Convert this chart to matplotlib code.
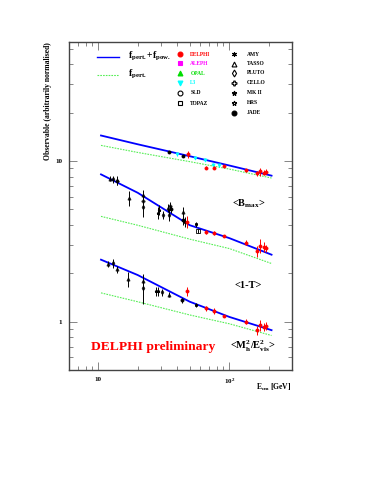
import numpy as np
import matplotlib.pyplot as plt
from matplotlib.ticker import LogLocator, NullFormatter, FixedLocator, FixedFormatter

plt.rcParams['font.family'] = ['Liberation Serif', 'DejaVu Serif']
plt.rcParams['font.weight'] = 'bold'
plt.rcParams['mathtext.fontset'] = 'custom'
plt.rcParams['mathtext.rm'] = 'Liberation Serif:bold'
plt.rcParams['mathtext.it'] = 'Liberation Serif:italic:bold'
plt.rcParams['mathtext.bf'] = 'Liberation Serif:bold'

# ===== 데이터 =====
# 실험별 마커 / 색
exp_style = {
    'DELPHI': ('o', 'red', 'red'),
    'ALEPH': ('s', 'magenta', 'magenta'),
    'OPAL': ('^', '#00dd00', '#00dd00'),
    'L3': ('v', 'cyan', 'cyan'),
    'SLD': ('o', 'none', 'black'),
    'TOPAZ': ('s', 'none', 'black'),
    'AMY': ((6, 2, 0), 'black', 'black'),
    'TASSO': ('^', 'none', 'black'),
    'PLUTO': ('d', 'none', 'black'),
    'CELLO': ('P', 'none', 'black'),
    'MK II': ('*', 'black', 'black'),
    'HRS': ('*', 'none', 'black'),
    'JADE': ('o', 'black', 'black'),
}
legend_col1 = ['DELPHI', 'ALEPH', 'OPAL', 'L3', 'SLD', 'TOPAZ']
legend_col2 = ['AMY', 'TASSO', 'PLUTO', 'CELLO', 'MK II', 'HRS', 'JADE']

# <B_max>
bmax_E = [34.8, 40.1, 44.0, 48.1, 55.0, 64.9, 66.0, 75.0, 76.4, 84.0, 91.2, 133, 162, 172, 183, 189]
bmax_val = [11.3, 11.0, 10.7, 11.0, 10.5, 10.2, 9.1, 9.5, 9.1, 9.4, 9.33, 8.73, 8.4, 8.6, 8.45, 8.55]
bmax_err = [0.15, 0.2, 0.15, 0.5, 0.2, 0.2, 0.15, 0.2, 0.2, 0.2, 0.05, 0.2, 0.3, 0.5, 0.3, 0.3]
bmax_exp = ['JADE', 'L3', 'JADE', 'DELPHI', 'L3', 'L3', 'DELPHI', 'L3', 'DELPHI', 'L3', 'DELPHI',
            'DELPHI', 'DELPHI', 'DELPHI', 'DELPHI', 'DELPHI']

# <1-T>
thr_E = [12.3, 13.0, 13.8, 14.0, 17.3, 21.8, 22.0, 22.0, 28.4, 29.1, 31.4, 34.2, 35.2, 35.9, 34.8,
         44.0, 44.0, 46.1, 47.7, 55.6, 58.0, 66.3, 76.4, 91.2, 133, 162, 172, 183, 189]
thr_val = [7.75, 7.7, 7.6, 7.45, 5.87, 6.15, 5.6, 5.2, 4.77, 4.98, 4.63, 5.09, 5.24, 5.0, 4.63,
           4.81, 4.27, 4.17, 4.17, 4.04, 3.68, 3.6, 3.55, 3.41, 3.1, 2.74, 2.96, 2.92, 2.87]
thr_err = [0.3, 0.4, 0.5, 0.4, 0.6, 0.4, 0.4, 0.7, 0.4, 0.35, 0.25, 0.3, 0.3, 0.25, 0.4,
           0.35, 0.25, 0.3, 0.35, 0.15, 0.1, 0.1, 0.1, 0.03, 0.12, 0.2, 0.3, 0.2, 0.15]
thr_exp = ['TASSO', 'PLUTO', 'TASSO', 'CELLO', 'TASSO', 'TASSO', 'CELLO', 'PLUTO', 'HRS', 'MK II',
           'PLUTO', 'TASSO', 'CELLO', 'JADE', 'PLUTO', 'TASSO', 'JADE', 'AMY', 'DELPHI', 'AMY',
           'TOPAZ', 'DELPHI', 'DELPHI', 'DELPHI', 'DELPHI', 'DELPHI', 'DELPHI', 'DELPHI', 'DELPHI']

# <M_h^2/E_vis^2>
mh_E = [11.9, 12.9, 14.0, 17.0, 21.8, 22.0, 27.6, 28.7, 30.8, 34.6, 43.6, 47.7, 55.3, 66.3, 76.4,
        91.2, 133, 162, 172, 183, 189]
mh_val = [2.30, 2.32, 2.12, 1.85, 1.79, 1.63, 1.55, 1.55, 1.52, 1.47, 1.36, 1.55, 1.27, 1.21, 1.16,
          1.08, 1.0, 0.885, 0.95, 0.93, 0.94]
mh_err = [0.1, 0.15, 0.1, 0.2, 0.12, 0.35, 0.1, 0.1, 0.08, 0.05, 0.05, 0.1, 0.03, 0.04, 0.05,
          0.01, 0.04, 0.06, 0.08, 0.05, 0.05]
mh_exp = ['TASSO', 'PLUTO', 'TASSO', 'TASSO', 'TASSO', 'PLUTO', 'HRS', 'MK II', 'PLUTO', 'TASSO',
          'JADE', 'DELPHI', 'AMY', 'DELPHI', 'DELPHI', 'DELPHI', 'DELPHI', 'DELPHI', 'DELPHI',
          'DELPHI', 'DELPHI']

# 곡선 (f_pert.+f_pow. / f_pert.)
curve_E = [10.5, 20, 50, 100, 210]
bmax_full = [14.4, 12.7, 10.7, 9.37, 8.1]
bmax_pert = [12.5, 11.3, 9.9, 8.9, 7.83]
thr_full = [8.25, 6.34, 3.98, 3.31, 2.61]
thr_pert = [4.52, 3.98, 3.26, 2.85, 2.30]
mh_full = [2.43, 1.95, 1.33, 1.07, 0.885]
mh_pert = [1.51, 1.33, 1.10, 0.97, 0.82]

# ===== Figure =====
fig = plt.figure(figsize=(3.82, 4.94), dpi=100)
ax = fig.add_axes([0.181, 0.251, 0.583, 0.664])
ax.set_xscale('log')
ax.set_yscale('log')
ax.set_xlim(6, 300)
ax.set_ylim(0.5, 55)

for full, pert in [(bmax_full, bmax_pert), (thr_full, thr_pert), (mh_full, mh_pert)]:
    ax.plot(curve_E, full, color='blue', lw=1.3, zorder=2)
    ax.plot(curve_E, pert, color='#55ee55', lw=0.8, ls=(0, (1.5, 1)), zorder=2)


def draw_points(E, val, err, exp):
    for e, v, s, name in zip(E, val, err, exp):
        mk, fc, ec = exp_style[name]
        ax.errorbar([e], [v], yerr=[s], fmt='', marker=mk, ls='none', ms=2.2, mfc=fc, mec=ec,
                    mew=0.6, ecolor=ec, elinewidth=0.7, capsize=0, zorder=3)


draw_points(bmax_E, bmax_val, bmax_err, bmax_exp)
draw_points(thr_E, thr_val, thr_err, thr_exp)
draw_points(mh_E, mh_val, mh_err, mh_exp)

# 축 눈금
ax.tick_params(which='both', direction='in', top=True, right=True, width=0.5, colors='#555555',
               labelcolor='black', labelsize=5, pad=5)
ax.tick_params(which='major', length=6)
ax.tick_params(which='minor', length=3)
ax.xaxis.set_major_locator(FixedLocator([10, 100]))
ax.xaxis.set_major_formatter(FixedFormatter(['10', r'10$^{2}$']))
ax.xaxis.set_minor_locator(LogLocator(base=10, subs=np.arange(2, 10)))
ax.xaxis.set_minor_formatter(NullFormatter())
ax.yaxis.set_major_locator(FixedLocator([1, 10]))
ax.yaxis.set_major_formatter(FixedFormatter(['1', '10']))
ax.yaxis.set_minor_locator(LogLocator(base=10, subs=np.arange(2, 10)))
ax.yaxis.set_minor_formatter(NullFormatter())
for sp in ax.spines.values():
    sp.set_linewidth(1.0)
    sp.set_color('#444444')

ax.text(-0.095, 1.0, 'Observable (arbitrarily normalised)', transform=ax.transAxes,
        rotation=90, ha='center', va='top', fontsize=5.5)
ax.text(1.0, -0.035, r'E$_{\rm cm}$ [GeV]', transform=ax.transAxes,
        ha='right', va='top', fontsize=5.5)

# 관측량 라벨
ax.text(0.805, 0.508, r'<B$_{\rm max}$>', transform=ax.transAxes, ha='center', va='center', fontsize=7.5)
ax.text(0.803, 0.258, '<1-T>', transform=ax.transAxes, ha='center', va='center', fontsize=7.5)
ax.text(0.825, 0.071, r'<M$_{\rm h}^{2}$/E$_{\rm vis}^{2}$>', transform=ax.transAxes,
        ha='center', va='center', fontsize=7.5)
ax.text(0.376, 0.071, 'DELPHI preliminary', transform=ax.transAxes, ha='center', va='center',
        fontsize=9.7, color='red')

# 범례 (수동 배치)
ax.plot([0.127, 0.223], [0.953, 0.953], transform=ax.transAxes, color='blue', lw=1.0, clip_on=False)
ax.plot([0.127, 0.223], [0.900, 0.900], transform=ax.transAxes, color='#55ee55', lw=0.8,
        ls=(0, (1.5, 1)), clip_on=False)
ax.text(0.265, 0.955, r'f$_{\rm pert.}$+f$_{\rm pow.}$', transform=ax.transAxes, ha='left',
        va='center', fontsize=7)
ax.text(0.265, 0.902, r'f$_{\rm pert.}$', transform=ax.transAxes, ha='left', va='center', fontsize=7)

col1_y = [0.963, 0.935, 0.904, 0.875, 0.845, 0.814]
col2_y = [0.963, 0.934, 0.906, 0.876, 0.845, 0.815, 0.784]
for name, y in zip(legend_col1, col1_y):
    mk, fc, ec = exp_style[name]
    ax.plot([0.496], [y], transform=ax.transAxes, marker=mk, ms=3.5, mfc=fc, mec=ec, mew=0.8,
            ls='none', clip_on=False)
    tc = ec if fc != 'none' else 'black'
    ax.text(0.544, y, name, transform=ax.transAxes, ha='left', va='center', fontsize=4, color=tc)
for name, y in zip(legend_col2, col2_y):
    mk, fc, ec = exp_style[name]
    ax.plot([0.739], [y], transform=ax.transAxes, marker=mk, ms=3.5, mfc=fc, mec=ec, mew=0.8,
            ls='none', clip_on=False)
    ax.text(0.798, y, name, transform=ax.transAxes, ha='left', va='center', fontsize=4, color='black')

fig.savefig('out.png', dpi=100)
